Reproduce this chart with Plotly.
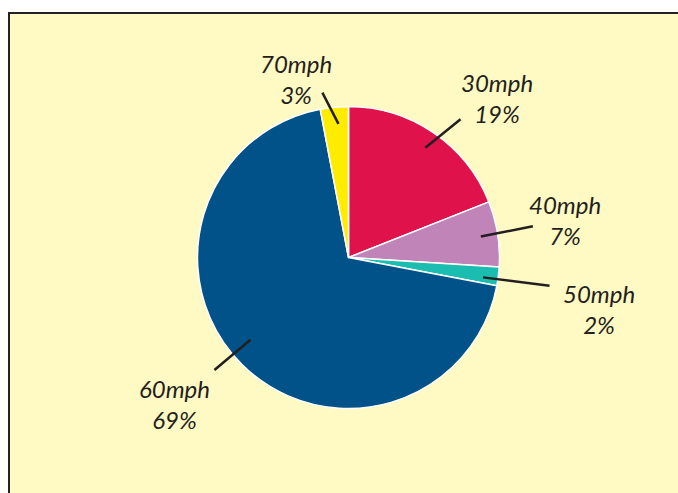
import math
import plotly.graph_objects as go

# Share of vehicles by speed
speeds = ["30mph", "40mph", "50mph", "60mph", "70mph"]
shares = [19, 7, 2, 69, 3]
slice_colors = ["#E0124B", "#C084B8", "#1BBDB0", "#02528A", "#FFEC00"]

W, H = 678, 493
CX, CY, R = 348.5, 257.5, 151          # pie centre / radius in pixels (y measured downwards)
BG = "#FFF9C3"
INK = "#231F20"

# Leader lines: (inner angle offset, inner radius, outer angle offset, outer radius)
leader_geom = {
    "30mph": (0.8, 134, 4.8, 178),
    "40mph": (0.0, 134, -0.6, 187),
    "50mph": (1.2, 136, 0.8, 203),
    "60mph": (5.0, 128, 5.0, 175),
    "70mph": (1.1, 134, -3.6, 167),
}
# Label placement: (radius, angle) from pie centre
label_geom = {
    "30mph": (218, 43.0),
    "40mph": (220, 80.2),
    "50mph": (256, 101.5),
    "60mph": (228, 229.9),
    "70mph": (186, 343.7),
}


def to_paper(px, py):
    return px / W, 1 - py / H


def polar(r, deg):
    a = math.radians(deg)
    return CX + r * math.sin(a), CY - r * math.cos(a)


fig = go.Figure(go.Pie(
    labels=speeds,
    values=shares,
    sort=False,
    direction="clockwise",
    rotation=0,
    marker=dict(colors=slice_colors, line=dict(color="white", width=1.5)),
    textinfo="none",
    hoverinfo="label+percent",
    showlegend=False,
    domain=dict(x=[(CX - R) / W, (CX + R) / W], y=[1 - (CY + R) / H, 1 - (CY - R) / H]),
))

shapes = [dict(
    type="rect", xref="paper", yref="paper", layer="below",
    x0=9 / W, y0=-0.1, x1=1.1, y1=1 - 13 / H,
    line=dict(color="#222222", width=2), fillcolor=BG,
)]
annotations = []

total = sum(shares)
cum = 0
for name, v in zip(speeds, shares):
    mid = 360 * (cum + v / 2) / total
    cum += v
    a0, r0, a1, r1 = leader_geom[name]
    x0, y0 = to_paper(*polar(r0, mid + a0))
    x1, y1 = to_paper(*polar(r1, mid + a1))
    shapes.append(dict(type="line", xref="paper", yref="paper",
                       x0=x0, y0=y0, x1=x1, y1=y1,
                       line=dict(color=INK, width=2.5)))
    lr, la = label_geom[name]
    tx, ty = to_paper(*polar(lr, la))
    pct = round(100 * v / total)
    annotations.append(dict(
        xref="paper", yref="paper", x=tx, y=ty, xanchor="center", yanchor="middle",
        text=f"<i>{name}<br>{pct}%</i>", showarrow=False, align="center",
        font=dict(family="Lato, 'Open Sans', sans-serif", size=24, color=INK),
    ))

fig.update_layout(
    width=W, height=H,
    margin=dict(l=0, r=0, t=0, b=0),
    paper_bgcolor="white",
    plot_bgcolor="white",
    shapes=shapes,
    annotations=annotations,
)

fig.write_html("out.html")
